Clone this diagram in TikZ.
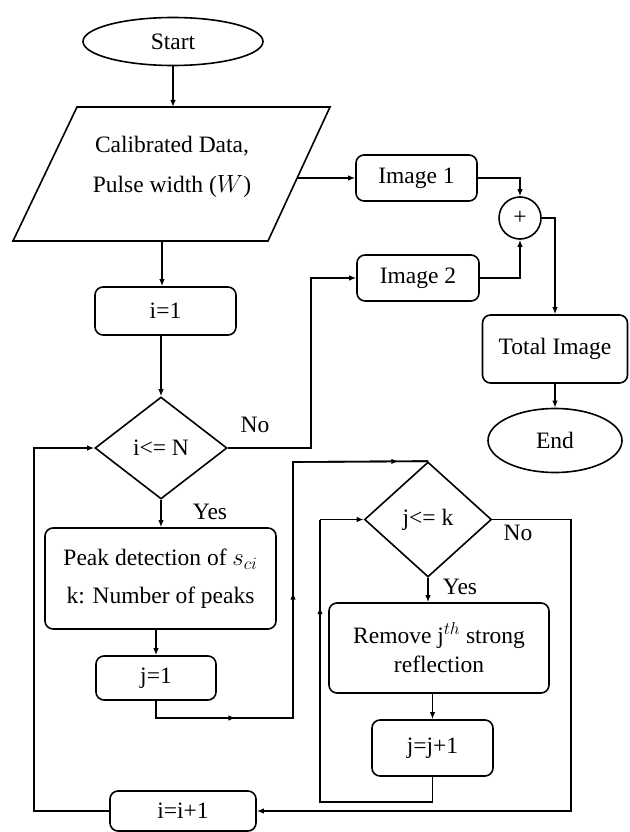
\documentclass[tikz,border=0pt]{standalone}
\usepackage{fontspec}
\setmainfont{Liberation Serif}
\usetikzlibrary{arrows.meta,shapes.geometric,decorations.markings,calc}
\begin{document}
\begin{tikzpicture}[x=1pt,y=-1pt,line width=1.6pt,
  font=\fontsize{23.5}{28}\selectfont,
  box/.style={draw,rounded corners=8pt,align=center,inner sep=0pt},
  oval/.style={draw,ellipse,inner sep=0pt},
  decision/.style={draw,diamond,inner sep=0pt},
  arr/.style={-{Latex[length=7pt,width=5.5pt]}},
  midarr/.style={postaction={decorate},decoration={markings,mark=at position #1 with {\arrow{Latex[length=7pt,width=5.5pt]}}}}]
\useasboundingbox (0,0) rectangle (629,832);

% nodes
\node[oval,minimum width=180pt,minimum height=48pt] (start) at (173,41.5) {Start};
\draw (77,107) -- (330,107) -- (268,241) -- (13,241) -- cycle;
\node[align=center,font=\fontsize{23.5}{40}\selectfont] (data) at (172,167) {Calibrated Data,\\Pulse width ($W$)};
\coordinate (dtop) at (173,107);
\coordinate (dbot) at (162,241);
\coordinate (dright) at (297,178);

\node[box,minimum width=141pt,minimum height=48pt] (i1) at (165.5,311) {i=1};
\node[decision,minimum width=132pt,minimum height=102pt] (dN) at (161,448) {i<= N};
\node[box,minimum width=231pt,minimum height=101pt,font=\fontsize{23.5}{38}\selectfont] (peak) at (160.5,578.5) {Peak detection of $s_{ci}$\\k: Number of peaks};
\node[box,minimum width=120pt,minimum height=44pt] (j1) at (156,678) {j=1};
\node[box,minimum width=146pt,minimum height=40pt] (ii) at (183,811) {i=i+1};

\node[box,minimum width=121pt,minimum height=46pt] (img1) at (416.5,178) {Image 1};
\node[box,minimum width=122pt,minimum height=46pt] (img2) at (418,278) {Image 2};
\node[draw,circle,minimum size=42pt,inner sep=0pt] (plus) at (520,218) {+};
\node[box,minimum width=145pt,minimum height=68pt] (total) at (555,349) {Total Image};
\node[oval,minimum width=134pt,minimum height=64pt] (endn) at (555,440.5) {End};

\node[decision,minimum width=127pt,minimum height=115pt] (djk) at (428,519.5) {j<= k};
\node[box,minimum width=220pt,minimum height=90pt,font=\fontsize{23.5}{29}\selectfont] (rem) at (439,648) {Remove j$^{th}$ strong\\reflection};
\node[box,minimum width=121pt,minimum height=56pt] (jj) at (432.5,748) {j=j+1};

% labels
\node (noA) at (255,425) {No};
\node (yesA) at (210,512) {Yes};
\node (noB) at (518,533) {No};
\node (yesB) at (460,587) {Yes};

% connectors
\draw[arr] (start.south) -- (dtop);
\draw[arr] (dbot) -- (dbot |- i1.north);
\draw[arr] (dright) -- (img1.west);
\draw[arr] (img1.east) -| (plus.north);
\draw[arr] (img2.east) -| (plus.south);
\draw[arr] (plus.east) -| (total.north);
\draw[arr] (total.south) -- (endn.north);
\draw[arr] (dN.north |- i1.south) -- (dN.north);
\draw[arr] (dN.east) -- ++(83,0) |- (img2.west);
\draw[arr] (dN.south) -- (dN.south |- peak.north);
\draw[arr] (j1.north |- peak.south) -- (j1.north);

\coordinate (c2) at (293,718);
\coordinate (c3) at (293,462);
\draw (j1.south) |- (c2) -- (c3) -- (djk.north);
\draw[midarr=0.58] (j1.south |- c2) -- (c2);
\draw[midarr=0.49] (c2) -- (c3);
\draw[midarr=0.78] (c3) -- (djk.north);

\draw[arr] (djk.south) -- (djk.south |- rem.north);
\draw[arr] (jj.north |- rem.south) -- (jj.north);

\coordinate (d1) at (320,802);
\draw (jj.south) |- (d1) -- (d1 |- djk.west);
\draw[midarr=0.69] (d1) -- (d1 |- djk.west);
\draw[arr] (d1 |- djk.west) -- (djk.west);

\coordinate (e1) at (571,0);
\draw[arr] (djk.east) -- (djk.east -| e1) |- (ii.east);

\coordinate (f1) at (34,0);
\draw[arr] (ii.west) -- (ii.west -| f1) |- (dN.west);
\end{tikzpicture}
\end{document}
